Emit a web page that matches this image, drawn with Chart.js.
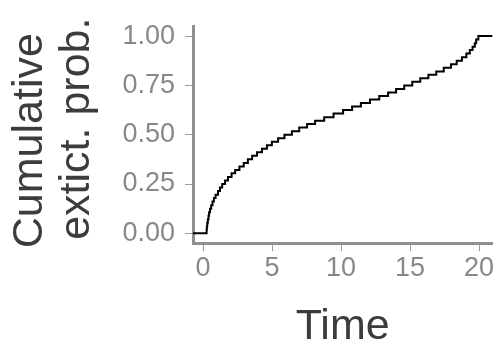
<!DOCTYPE html>
<html><head><meta charset="utf-8">
<script src="https://cdn.jsdelivr.net/npm/chart.js@4.4.0/dist/chart.umd.min.js"></script>
<style>html,body{margin:0;padding:0;background:#fff;} #wrap{width:504px;height:360px;position:relative;}</style>
</head><body><div id="wrap"><canvas id="c" width="504" height="360"></canvas></div>
<script>
// Extinction times (ECDF jump points); -1 and 22 stand for -Inf / +Inf padding
const extinctionTimes = [-1, 0.26, 0.28, 0.31, 0.35, 0.40, 0.44, 0.51, 0.59, 0.69, 0.79, 0.91, 1.09, 1.23, 1.39, 1.60, 1.81, 2.07, 2.33, 2.64, 2.95, 3.25, 3.56, 3.91, 4.27, 4.63, 4.99, 5.44, 5.90, 6.44, 6.97, 7.54, 8.12, 8.78, 9.46, 10.15, 10.80, 11.44, 12.10, 12.77, 13.41, 13.99, 14.58, 15.16, 15.74, 16.33, 16.90, 17.44, 17.97, 18.38, 18.76, 19.08, 19.33, 19.53, 19.69, 19.79, 19.95, 22];
const cumulativeProb = [0, 0.018, 0.036, 0.054, 0.071, 0.089, 0.107, 0.125, 0.143, 0.161, 0.179, 0.196, 0.214, 0.232, 0.250, 0.268, 0.286, 0.304, 0.321, 0.339, 0.357, 0.375, 0.393, 0.411, 0.429, 0.446, 0.464, 0.482, 0.500, 0.518, 0.536, 0.554, 0.571, 0.589, 0.607, 0.625, 0.643, 0.661, 0.679, 0.696, 0.714, 0.732, 0.750, 0.768, 0.786, 0.804, 0.821, 0.839, 0.857, 0.875, 0.893, 0.911, 0.929, 0.946, 0.964, 0.982, 1.000, 1.000];
const xTickValues = [0, 5, 10, 15, 20];
const yTickValues = [0, 0.25, 0.5, 0.75, 1];
const xTitle = 'Time';
const yTitle = ['Cumulative ', ' extict. prob.'];

const FONT = "'Liberation Sans', Arial, sans-serif";
const AXIS = '#8f8f8f';
const TICKTXT = '#888888';
const TITLE = '#3c3c3c';

const points = extinctionTimes.map((t, i) => ({x: t, y: cumulativeProb[i]}));

new Chart(document.getElementById('c').getContext('2d'), {
  type: 'line',
  data: { datasets: [{
    data: points, stepped: 'before', borderColor: '#000', borderWidth: 2,
    pointRadius: 0, fill: false, clip: 0, tension: 0
  }]},
  options: {
    responsive: false, animation: false, devicePixelRatio: 1,
    plugins: { legend: {display: false}, tooltip: {enabled: false} },
    layout: { padding: {top: 11.2, right: 11.7, left: 0, bottom: 0} },
    scales: {
      x: {
        type: 'linear', min: -0.725, max: 20.96,
        afterBuildTicks: s => { s.ticks = xTickValues.map(v => ({value: v})); },
        afterFit: s => { s.height = 116.8; },
        grid: {display: true, drawOnChartArea: false, drawTicks: true, tickLength: 8, color: '#9a9a9a', lineWidth: 1},
        border: {display: true, width: 3, color: AXIS},
        ticks: {font: {family: FONT, size: 27}, color: TICKTXT, padding: 1, maxRotation: 0, autoSkip: false,
                callback: v => String(v)},
        title: {display: true, text: xTitle, font: {family: FONT, size: 43, lineHeight: 1.2}, color: TITLE,
                padding: {top: 0, bottom: 7.4}}
      },
      y: {
        type: 'linear', min: -0.05, max: 1.05,
        afterBuildTicks: s => { s.ticks = yTickValues.map(v => ({value: v})); },
        afterFit: s => { s.width = 193; },
        grid: {display: true, drawOnChartArea: false, drawTicks: true, tickLength: 8, color: '#9a9a9a', lineWidth: 1},
        border: {display: true, width: 3, color: AXIS},
        ticks: {font: {family: FONT, size: 27}, color: TICKTXT, padding: 10, autoSkip: false,
                callback: v => Number(v).toFixed(2)},
        title: {display: true, text: yTitle, font: {family: FONT, size: 43, lineHeight: 1.086}, color: TITLE,
                padding: {top: 6.7, bottom: 0}}
      }
    }
  }
});
</script></body></html>
